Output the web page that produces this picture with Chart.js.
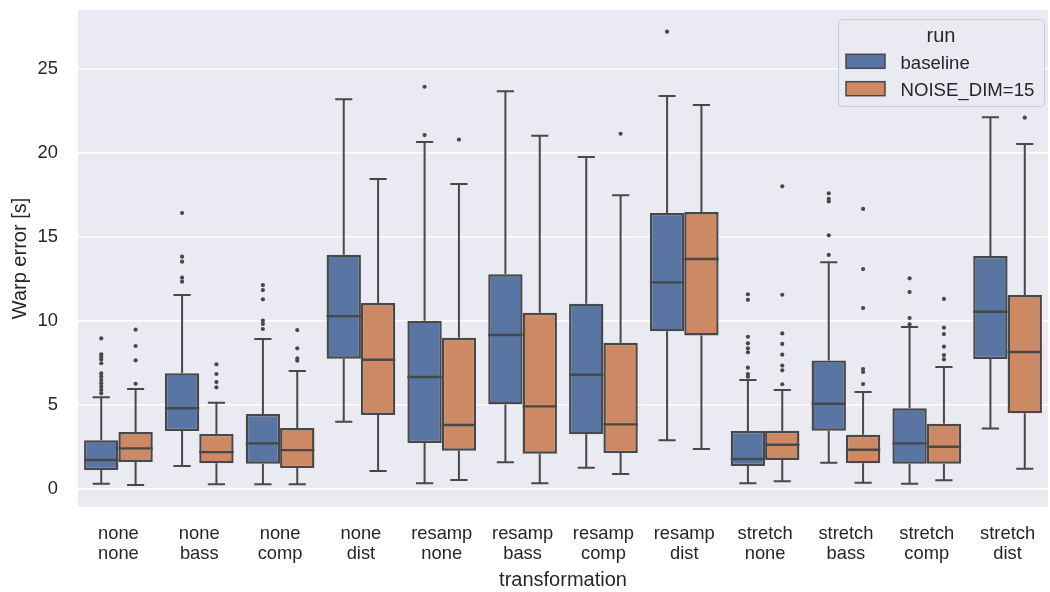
<!DOCTYPE html>
<html>
<head>
<meta charset="utf-8">
<title>Warp error by transformation</title>
<script src="https://cdn.jsdelivr.net/npm/chart.js@4.4.0/dist/chart.umd.min.js"></script>
<style>
  html, body { margin: 0; padding: 0; background: #ffffff; }
  #wrap { width: 1050px; height: 592px; }
</style>
</head>
<body>
<div id="wrap"><canvas id="c" width="1050" height="592"></canvas></div>
<script>
// Transformation categories (two-line tick labels)
const catTop    = ['none', 'none', 'none', 'none', 'resamp', 'resamp', 'resamp', 'resamp', 'stretch', 'stretch', 'stretch', 'stretch'];
const catBottom = ['none', 'bass', 'comp', 'dist', 'none', 'bass', 'comp', 'dist', 'none', 'bass', 'comp', 'dist'];
const runNames  = ['baseline', 'NOISE_DIM=15'];
const yTicks    = [0, 5, 10, 15, 20, 25];

// Run "baseline": whisker ends, quartiles, median, fliers
const baseLow  = [0.32, 1.37, 0.28, 4.01, 0.34, 1.59, 1.27, 2.90, 0.34, 1.57, 0.32, 3.61];
const baseQ1   = [1.13, 3.45, 1.51, 7.76, 2.74, 5.04, 3.26, 9.39, 1.37, 3.47, 1.51, 7.74];
const baseMed  = [1.73, 4.81, 2.72, 10.30, 6.67, 9.17, 6.81, 12.31, 1.79, 5.08, 2.72, 10.56];
const baseQ3   = [2.90, 6.89, 4.47, 13.96, 10.03, 12.79, 11.04, 16.44, 3.45, 7.66, 4.81, 13.88];
const baseHigh = [5.46, 11.55, 8.93, 23.21, 20.67, 23.69, 19.77, 23.41, 6.49, 13.50, 9.65, 22.14];
const baseOut  = [
  [8.97, 8.02, 7.88, 7.72, 7.49, 6.89, 6.69, 6.49, 6.30, 6.10, 5.90, 5.70],
  [16.44, 13.84, 13.54, 12.59, 12.35],
  [12.15, 11.85, 11.30, 10.03, 9.83, 9.53],
  [],
  [23.96, 21.08],
  [],
  [],
  [27.24],
  [11.60, 11.27, 9.07, 8.68, 8.38, 8.14, 7.23, 6.85, 6.69],
  [17.61, 17.29, 17.13, 15.11, 13.94],
  [12.55, 11.73, 10.18, 9.81],
  []
];

// Run "NOISE_DIM=15"
const noiseLow  = [0.24, 0.28, 0.28, 1.07, 0.54, 0.34, 0.89, 2.38, 0.46, 0.38, 0.52, 1.21];
const noiseQ1   = [1.61, 1.53, 1.25, 4.41, 2.28, 2.10, 2.14, 9.15, 1.73, 1.53, 1.51, 4.51];
const noiseMed  = [2.42, 2.20, 2.32, 7.70, 3.81, 4.92, 3.85, 13.70, 2.64, 2.34, 2.52, 8.16];
const noiseQ3   = [3.39, 3.28, 3.63, 11.08, 9.01, 10.50, 8.71, 16.50, 3.47, 3.23, 3.89, 11.55];
const noiseHigh = [5.96, 5.14, 7.03, 18.46, 18.17, 21.04, 17.49, 22.87, 5.90, 5.78, 7.27, 20.55];
const noiseOut  = [
  [9.49, 8.52, 7.66, 6.27],
  [7.43, 6.85, 6.37, 6.06],
  [9.47, 8.38, 7.78, 7.64],
  [],
  [20.81],
  [],
  [21.16],
  [],
  [18.03, 11.57, 9.27, 8.64, 8.00, 7.35, 7.07, 6.24],
  [16.68, 13.10, 10.78, 7.15, 6.97, 6.25],
  [11.32, 9.61, 9.23, 8.48, 7.98, 7.72],
  [22.12]
];

const runColors = ['#5975a4', '#cc8963'];
const edgeColor = '#484848';
const textColor = '#262626';
const fontFamily = '"Liberation Sans", Arial, sans-serif';
const tickSize = 18.33;
const titleSize = 20;

const runStats = [
  { low: baseLow,  med: baseMed,  high: baseHigh,  out: baseOut },
  { low: noiseLow, med: noiseMed, high: noiseHigh, out: noiseOut }
];

const labels = catTop.map((t, i) => [t, catBottom[i]]);

// Background, whiskers, medians, fliers and the legend panel
const boxParts = {
  id: 'boxParts',
  beforeDraw(chart) {
    const { ctx, chartArea: a } = chart;
    ctx.save();
    ctx.fillStyle = '#eaeaf2';
    ctx.fillRect(a.left, a.top, a.right - a.left, a.bottom - a.top);
    ctx.restore();
  },
  beforeDatasetsDraw(chart) {
    const { ctx } = chart;
    const y = chart.scales.y;
    ctx.save();
    ctx.strokeStyle = edgeColor;
    ctx.lineWidth = 2;
    ctx.lineCap = 'butt';
    runStats.forEach((s, d) => {
      const meta = chart.getDatasetMeta(d);
      meta.data.forEach((el, i) => {
        const { x, width } = el.getProps(['x', 'width'], true);
        const q1 = chart.data.datasets[d].data[i][0];
        const q3 = chart.data.datasets[d].data[i][1];
        const cap = width / 2;
        const pLow = y.getPixelForValue(s.low[i]);
        const pHigh = y.getPixelForValue(s.high[i]);
        ctx.beginPath();
        ctx.moveTo(x, y.getPixelForValue(q3));
        ctx.lineTo(x, pHigh);
        ctx.moveTo(x, y.getPixelForValue(q1));
        ctx.lineTo(x, pLow);
        ctx.moveTo(x - cap / 2, pHigh);
        ctx.lineTo(x + cap / 2, pHigh);
        ctx.moveTo(x - cap / 2, pLow);
        ctx.lineTo(x + cap / 2, pLow);
        ctx.stroke();
      });
    });
    ctx.restore();
  },
  afterDatasetsDraw(chart) {
    const { ctx } = chart;
    const y = chart.scales.y;
    ctx.save();
    ctx.strokeStyle = edgeColor;
    ctx.fillStyle = edgeColor;
    ctx.lineWidth = 2.4;
    runStats.forEach((s, d) => {
      const meta = chart.getDatasetMeta(d);
      meta.data.forEach((el, i) => {
        const { x, width } = el.getProps(['x', 'width'], true);
        const pm = y.getPixelForValue(s.med[i]);
        ctx.beginPath();
        ctx.moveTo(x - width / 2, pm);
        ctx.lineTo(x + width / 2, pm);
        ctx.stroke();
        s.out[i].forEach(v => {
          ctx.beginPath();
          ctx.arc(x, y.getPixelForValue(v), 2.1, 0, Math.PI * 2);
          ctx.fill();
        });
      });
    });
    ctx.restore();
  },
  afterDraw(chart) {
    const { ctx, chartArea: a } = chart;
    const w = 206, h = 87;
    const bx = a.right - 4 - w, by = a.top + 9;
    ctx.save();
    ctx.beginPath();
    ctx.roundRect(bx + 0.5, by + 0.5, w, h, 4);
    ctx.fillStyle = 'rgba(234,234,242,0.8)';
    ctx.fill();
    ctx.strokeStyle = '#cccccc';
    ctx.lineWidth = 1;
    ctx.stroke();

    ctx.fillStyle = textColor;
    ctx.font = titleSize + 'px ' + fontFamily;
    ctx.textAlign = 'center';
    ctx.textBaseline = 'alphabetic';
    ctx.fillText('run', bx + w / 2, by + 22.7);

    const rows = [by + 35.3, by + 62.7];
    ctx.font = '18.6px ' + fontFamily;
    ctx.textAlign = 'left';
    runNames.forEach((name, k) => {
      ctx.fillStyle = runColors[k];
      ctx.fillRect(bx + 8, rows[k], 39, 14);
      ctx.strokeStyle = edgeColor;
      ctx.lineWidth = 1.5;
      ctx.strokeRect(bx + 8, rows[k], 39, 14);
      ctx.fillStyle = textColor;
      ctx.fillText(name, bx + 62.5, rows[k] + 14.5);
    });
    ctx.restore();
  }
};

new Chart(document.getElementById('c'), {
  type: 'bar',
  data: {
    labels: labels,
    datasets: runNames.map((name, d) => ({
      label: name,
      data: d === 0 ? baseQ1.map((q, i) => [q, baseQ3[i]]) : noiseQ1.map((q, i) => [q, noiseQ3[i]]),
      backgroundColor: runColors[d],
      borderColor: edgeColor,
      borderWidth: 2.4,
      borderSkipped: false,
      categoryPercentage: 0.85,
      barPercentage: 1.0
    }))
  },
  options: {
    responsive: false,
    animation: false,
    layout: { padding: { top: 10, right: 2, left: 0, bottom: 0 } },
    plugins: {
      legend: { display: false },
      tooltip: { enabled: false }
    },
    scales: {
      x: {
        grid: { display: false, drawTicks: false },
        border: { display: false },
        ticks: {
          color: textColor,
          font: { family: fontFamily, size: tickSize, lineHeight: 1.1 },
          padding: 17,
          maxRotation: 0,
          autoSkip: false
        },
        title: {
          display: true,
          text: 'transformation',
          color: textColor,
          font: { family: fontFamily, size: titleSize },
          padding: { top: 0, bottom: 0 }
        },
        afterFit(scale) {
          scale.height = 85;
          scale.paddingLeft = 0;
          scale.paddingRight = 0;
        }
      },
      y: {
        min: -1.07,
        max: 28.53,
        grid: { color: '#ffffff', lineWidth: 1.6, drawTicks: false },
        border: { display: false },
        ticks: {
          color: textColor,
          font: { family: fontFamily, size: tickSize },
          padding: 20
        },
        afterBuildTicks(scale) { scale.ticks = yTicks.map(v => ({ value: v })); },
        title: {
          display: true,
          text: 'Warp error [s]',
          color: textColor,
          font: { family: fontFamily, size: titleSize },
          padding: { top: 8, bottom: 0 }
        },
        afterFit(scale) {
          scale.width = 78;
          scale.paddingTop = 0;
          scale.paddingBottom = 0;
        }
      }
    }
  },
  plugins: [boxParts]
});
</script>
</body>
</html>
